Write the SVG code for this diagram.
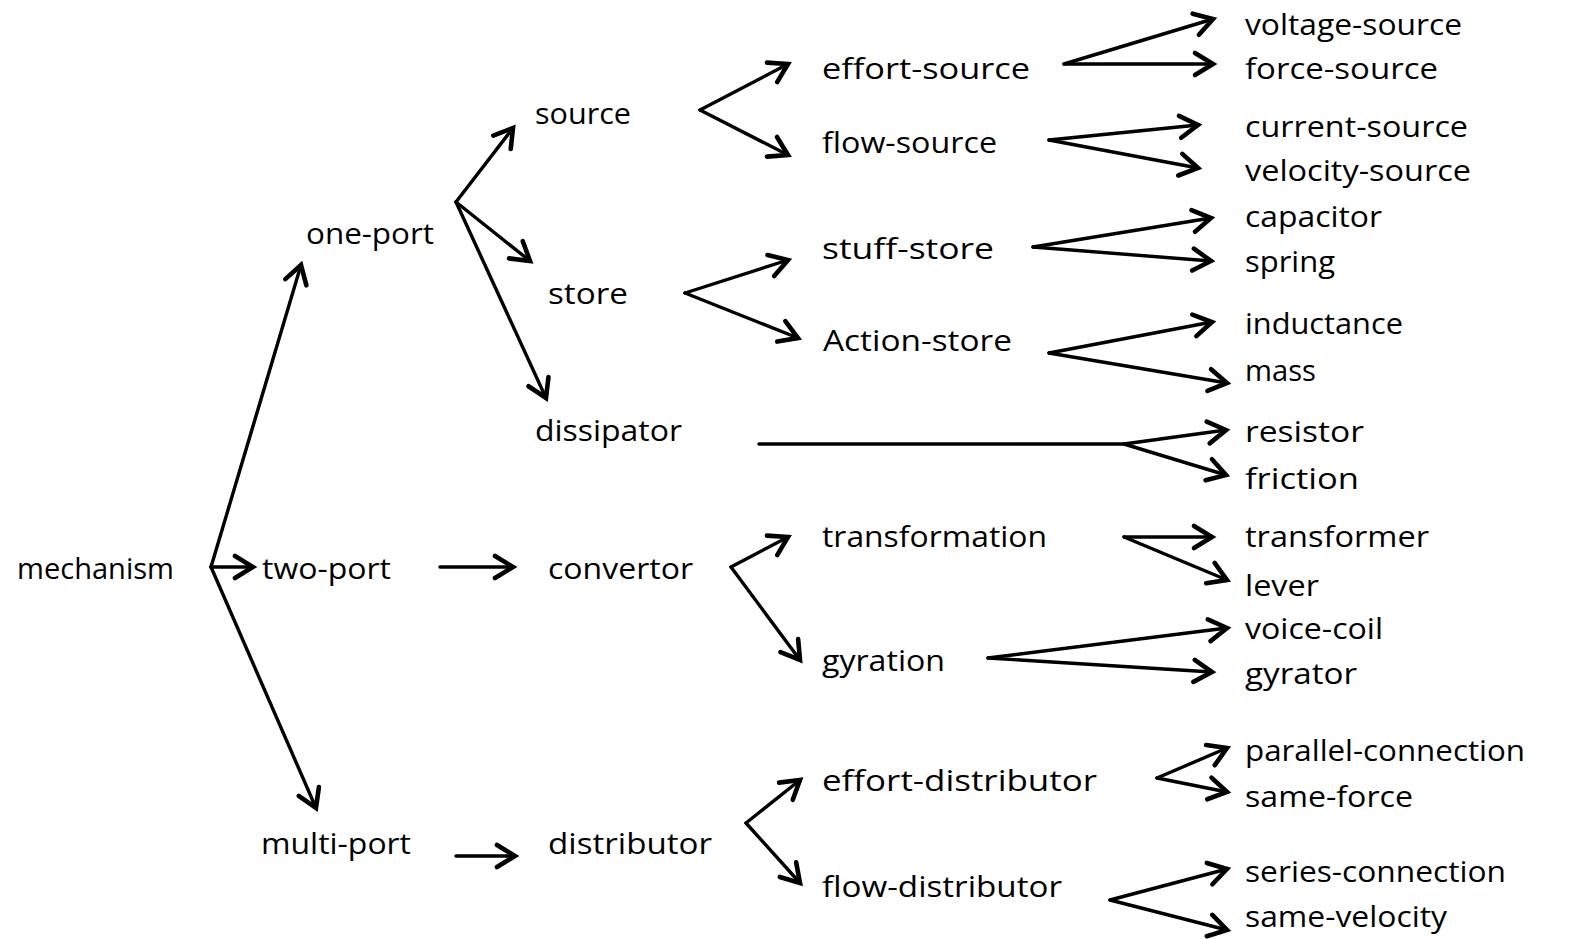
<svg xmlns="http://www.w3.org/2000/svg" width="1591" height="939" viewBox="0 0 1591 939">
<style>
text{font-family:"Open Sans","DejaVu Sans",sans-serif;font-size:30px;fill:#000;}
.c line{stroke:#000;stroke-width:3.4;stroke-linecap:round;marker-end:url(#ah);}
.c line.p{marker-end:none;}
</style>
<defs>
<marker id="ah" viewBox="-24 -16 30 32" refX="0" refY="0" markerWidth="30" markerHeight="32" markerUnits="userSpaceOnUse" orient="auto" overflow="visible">
<path d="M-18,-11 L0,0 L-18,11" fill="none" stroke="#000" stroke-width="4.6" stroke-linecap="round" stroke-linejoin="miter"/>
</marker>
</defs>
<rect width="1591" height="939" fill="#fff"/>
<g class="c" id="connectors">
<line x1="211" y1="567" x2="301" y2="265"/>
<line x1="211" y1="567" x2="253" y2="567"/>
<line x1="211" y1="567" x2="316" y2="808"/>
<line x1="456" y1="202" x2="513" y2="128"/>
<line x1="456" y1="202" x2="530" y2="261"/>
<line x1="456" y1="202" x2="546" y2="398"/>
<line x1="700" y1="110" x2="788" y2="64"/>
<line x1="700" y1="110" x2="788" y2="155"/>
<line x1="685" y1="293" x2="788" y2="260"/>
<line x1="685" y1="293" x2="798" y2="338"/>
<line class="p" x1="759" y1="444" x2="1124" y2="444"/>
<line x1="1124" y1="444" x2="1226" y2="430"/>
<line x1="1124" y1="444" x2="1226" y2="475"/>
<line x1="440" y1="567" x2="513" y2="567"/>
<line x1="731" y1="567" x2="788" y2="537"/>
<line x1="731" y1="567" x2="800" y2="660"/>
<line x1="456" y1="856" x2="515" y2="856"/>
<line x1="746" y1="823" x2="800" y2="780"/>
<line x1="746" y1="823" x2="800" y2="883"/>
<line x1="1064" y1="64" x2="1213" y2="19"/>
<line x1="1064" y1="64" x2="1213" y2="64"/>
<line x1="1049" y1="140" x2="1198" y2="125"/>
<line x1="1049" y1="140" x2="1198" y2="168"/>
<line x1="1033" y1="247" x2="1211" y2="218"/>
<line x1="1033" y1="247" x2="1211" y2="261"/>
<line x1="1049" y1="353" x2="1212" y2="322"/>
<line x1="1049" y1="353" x2="1227" y2="383"/>
<line x1="1124" y1="537" x2="1212" y2="537"/>
<line x1="1124" y1="537" x2="1227" y2="580"/>
<line x1="988" y1="658" x2="1227" y2="628"/>
<line x1="988" y1="658" x2="1212" y2="672"/>
<line x1="1157" y1="778" x2="1227" y2="748"/>
<line x1="1157" y1="778" x2="1227" y2="792"/>
<line x1="1110" y1="900" x2="1227" y2="869"/>
<line x1="1110" y1="900" x2="1227" y2="930"/>
</g>
<g id="n-mechanism"><text x="17" y="579" textLength="157" lengthAdjust="spacingAndGlyphs">mechanism</text></g>
<g id="n-two-port"><text x="262" y="579" textLength="129" lengthAdjust="spacingAndGlyphs">two-port</text></g>
<g id="n-one-port"><text x="306" y="244" textLength="128" lengthAdjust="spacingAndGlyphs">one-port</text></g>
<g id="n-multi-port"><text x="261" y="854" textLength="150" lengthAdjust="spacingAndGlyphs">multi-port</text></g>
<g id="n-source"><text x="535" y="124" textLength="96" lengthAdjust="spacingAndGlyphs">source</text></g>
<g id="n-store"><text x="548" y="304" textLength="80" lengthAdjust="spacingAndGlyphs">store</text></g>
<g id="n-dissipator"><text x="535" y="441" textLength="147" lengthAdjust="spacingAndGlyphs">dissipator</text></g>
<g id="n-convertor"><text x="548" y="579" textLength="145" lengthAdjust="spacingAndGlyphs">convertor</text></g>
<g id="n-distributor"><text x="548" y="854" textLength="164" lengthAdjust="spacingAndGlyphs">distributor</text></g>
<g id="n-effort-source"><text x="822" y="79" textLength="208" lengthAdjust="spacingAndGlyphs">effort-source</text></g>
<g id="n-flow-source"><text x="822" y="153" textLength="175" lengthAdjust="spacingAndGlyphs">flow-source</text></g>
<g id="n-stuff-store"><text x="822" y="259" textLength="172" lengthAdjust="spacingAndGlyphs">stuff-store</text></g>
<g id="n-action-store"><text x="823" y="351" textLength="189" lengthAdjust="spacingAndGlyphs">Action-store</text></g>
<g id="n-transformation"><text x="822" y="547" textLength="225" lengthAdjust="spacingAndGlyphs">transformation</text></g>
<g id="n-gyration"><text x="822" y="671" textLength="123" lengthAdjust="spacingAndGlyphs">gyration</text></g>
<g id="n-effort-distributor"><text x="822" y="791" textLength="275" lengthAdjust="spacingAndGlyphs">effort-distributor</text></g>
<g id="n-flow-distributor"><text x="822" y="897" textLength="240" lengthAdjust="spacingAndGlyphs">flow-distributor</text></g>
<g id="n-voltage-source"><text x="1245" y="35" textLength="217" lengthAdjust="spacingAndGlyphs">voltage-source</text></g>
<g id="n-force-source"><text x="1245" y="79" textLength="193" lengthAdjust="spacingAndGlyphs">force-source</text></g>
<g id="n-current-source"><text x="1245" y="137" textLength="223" lengthAdjust="spacingAndGlyphs">current-source</text></g>
<g id="n-velocity-source"><text x="1245" y="181" textLength="226" lengthAdjust="spacingAndGlyphs">velocity-source</text></g>
<g id="n-capacitor"><text x="1245" y="227" textLength="137" lengthAdjust="spacingAndGlyphs">capacitor</text></g>
<g id="n-spring"><text x="1245" y="272" textLength="90" lengthAdjust="spacingAndGlyphs">spring</text></g>
<g id="n-inductance"><text x="1245" y="334" textLength="158" lengthAdjust="spacingAndGlyphs">inductance</text></g>
<g id="n-mass"><text x="1245" y="381" textLength="71" lengthAdjust="spacingAndGlyphs">mass</text></g>
<g id="n-resistor"><text x="1245" y="442" textLength="119" lengthAdjust="spacingAndGlyphs">resistor</text></g>
<g id="n-friction"><text x="1245" y="489" textLength="114" lengthAdjust="spacingAndGlyphs">friction</text></g>
<g id="n-transformer"><text x="1245" y="547" textLength="184" lengthAdjust="spacingAndGlyphs">transformer</text></g>
<g id="n-lever"><text x="1245" y="596" textLength="74" lengthAdjust="spacingAndGlyphs">lever</text></g>
<g id="n-voice-coil"><text x="1245" y="639" textLength="138" lengthAdjust="spacingAndGlyphs">voice-coil</text></g>
<g id="n-gyrator"><text x="1245" y="684" textLength="112" lengthAdjust="spacingAndGlyphs">gyrator</text></g>
<g id="n-parallel-connection"><text x="1245" y="761" textLength="280" lengthAdjust="spacingAndGlyphs">parallel-connection</text></g>
<g id="n-same-force"><text x="1245" y="807" textLength="168" lengthAdjust="spacingAndGlyphs">same-force</text></g>
<g id="n-series-connection"><text x="1245" y="882" textLength="261" lengthAdjust="spacingAndGlyphs">series-connection</text></g>
<g id="n-same-velocity"><text x="1245" y="927" textLength="202" lengthAdjust="spacingAndGlyphs">same-velocity</text></g>
</svg>
